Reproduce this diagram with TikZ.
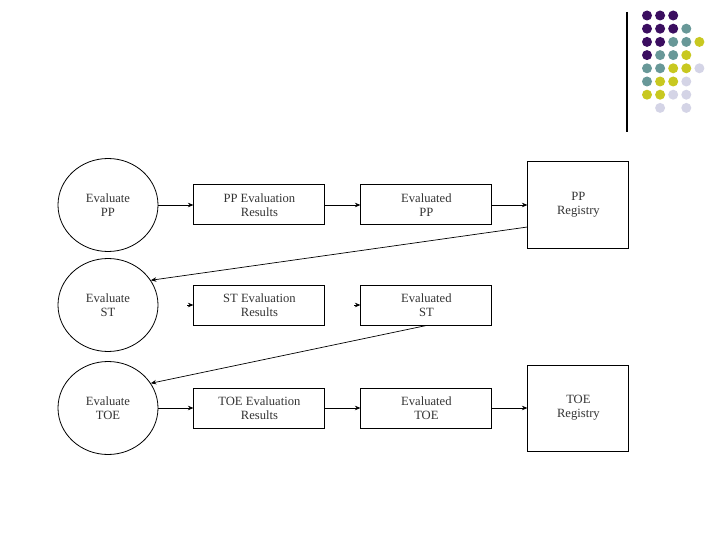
\documentclass[tikz,border=0pt]{standalone}
\usepackage{fontspec}
\setmainfont{Liberation Serif}
\usepackage{tikz}
\usetikzlibrary{shapes.geometric,arrows.meta,positioning,calc}
\usepackage{xcolor}

\definecolor{dotpurple}{RGB}{59,14,96}
\definecolor{dotteal}{RGB}{104,152,152}
\definecolor{dotyellow}{RGB}{200,200,32}
\definecolor{dotlav}{RGB}{212,212,230}

\begin{document}
\begin{tikzpicture}[
    x=1pt, y=-1pt,
    node distance=35pt,
    task/.style={ellipse, draw, line width=0.8pt, minimum width=100pt, minimum height=93pt, align=center, text=black!80, font=\fontsize{12.6}{14}\selectfont},
    result/.style={rectangle, draw, line width=1pt, minimum width=131pt, minimum height=40pt, align=center, text=black!80, font=\fontsize{12.6}{14}\selectfont},
    registry/.style={rectangle, draw, line width=1pt, minimum width=101pt, minimum height=86pt, align=center, text=black!80, font=\fontsize{12.6}{14}\selectfont},
    flow/.style={-{Stealth[length=5.5pt,width=4.5pt]}, line width=0.7pt},
]
\useasboundingbox (0,0) rectangle (720,540);

% PP row
\node[task] (evpp) at (108,205) {Evaluate\\PP};
\node[result, right=of evpp] (ppres) {PP Evaluation\\Results};
\node[result, right=of ppres] (evdpp) {Evaluated\\PP};
\node[registry, right=of evdpp] (pprg) {PP\\Registry};

\draw[flow] (evpp) -- (ppres);
\draw[flow] (ppres) -- (evdpp);
\draw[flow] (evdpp) -- (pprg);

% ST row
\node[task] (evst) at (108,305) {Evaluate\\ST};
\node[result, right=of evst] (stres) {ST Evaluation\\Results};
\node[result, right=of stres] (evdst) {Evaluated\\ST};

\coordinate (sttipa) at ($(stres.west)+(-6,0)$);
\coordinate (sttipb) at ($(evdst.west)+(-6,0)$);
\draw[flow] (sttipa) -- (stres.west);
\draw[flow] (sttipb) -- (evdst.west);

% TOE row
\node[task] (evtoe) at (108,408) {Evaluate\\TOE};
\node[result, right=of evtoe] (toeres) {TOE Evaluation\\Results};
\node[result, right=of toeres] (evdtoe) {Evaluated\\TOE};
\node[registry, right=of evdtoe] (toerg) {TOE\\Registry};

\draw[flow] (evtoe) -- (toeres);
\draw[flow] (toeres) -- (evdtoe);
\draw[flow] (evdtoe) -- (toerg);

% links between rows
\coordinate (ppout) at ($(pprg.west)+(0,22)$);
\draw[flow] (ppout) -- (evst.30);
\draw[flow] (evdst.south) -- (evtoe.30);

% corner decoration
\draw[line width=1.2pt] (627,12) -- (627,132);
\foreach \c/\r/\col in {0/0/dotpurple, 1/0/dotpurple, 2/0/dotpurple,
    0/1/dotpurple, 1/1/dotpurple, 2/1/dotpurple, 3/1/dotteal,
    0/2/dotpurple, 1/2/dotpurple, 2/2/dotteal, 3/2/dotteal, 4/2/dotyellow,
    0/3/dotpurple, 1/3/dotteal, 2/3/dotteal, 3/3/dotyellow,
    0/4/dotteal, 1/4/dotteal, 2/4/dotyellow, 3/4/dotyellow, 4/4/dotlav,
    0/5/dotteal, 1/5/dotyellow, 2/5/dotyellow, 3/5/dotlav,
    0/6/dotyellow, 1/6/dotyellow, 2/6/dotlav, 3/6/dotlav,
    1/7/dotlav, 3/7/dotlav}
  \fill[\col] ({647+13.1*\c},{15.5+13.2*\r}) circle (5pt);

\end{tikzpicture}
\end{document}
